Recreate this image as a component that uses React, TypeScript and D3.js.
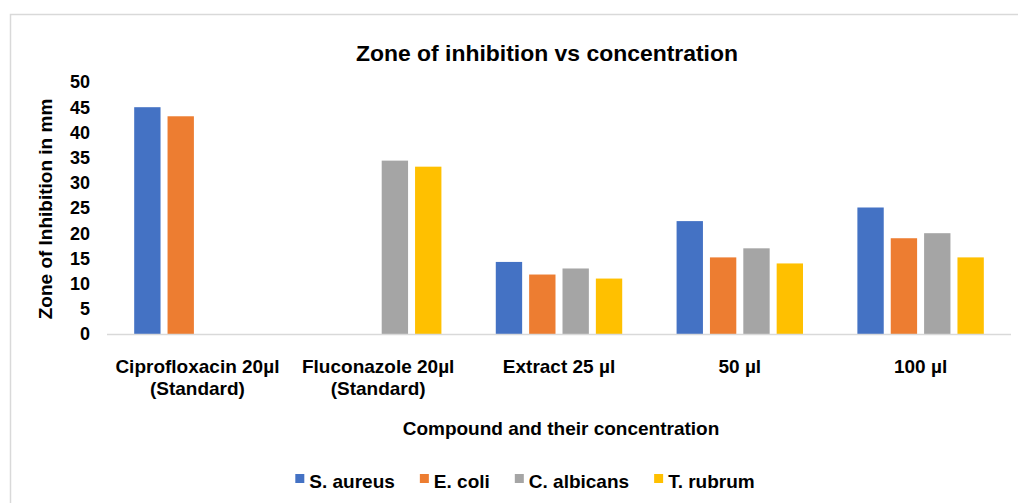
import React from 'react';
import * as d3 from 'd3';

const categories = [
  ['Ciprofloxacin 20µl', '(Standard)'],
  ['Fluconazole 20µl', '(Standard)'],
  ['Extract 25 µl'],
  ['50 µl'],
  ['100 µl'],
];
const seriesNames = ['S. aureus', 'E. coli', 'C. albicans', 'T. rubrum'];
const seriesColors = ['#4472C4', '#ED7D31', '#A5A5A5', '#FFC000'];
const sAureus = [45, null, 14.3, 22.4, 25.1];
const eColi = [43.2, null, 11.8, 15.2, 19.0];
const cAlbicans = [null, 34.4, 13.0, 17.0, 20.0];
const tRubrum = [null, 33.2, 11.0, 14.0, 15.2];
const yTicks = [0, 5, 10, 15, 20, 25, 30, 35, 40, 45, 50];

const seriesValues = [sAureus, eColi, cAlbicans, tRubrum];

const FONT = 'Liberation Sans, Arial, sans-serif';

const measure = (txt: string, size: number) => {
  const ctx = document.createElement('canvas').getContext('2d');
  if (!ctx) return txt.length * size * 0.55;
  ctx.font = `bold ${size}px ${FONT}`;
  return ctx.measureText(txt).width;
};

export default function App() {
  const width = 1018;
  const height = 503;
  const plot = { left: 107, right: 1011, top: 82, bottom: 334 };

  const x0 = d3.scaleBand<number>()
    .domain(categories.map((_, i) => i))
    .range([plot.left, plot.right])
    .padding(0);

  const x1 = d3.scaleBand<number>()
    .domain(seriesNames.map((_, i) => i))
    .range([0, x0.bandwidth()])
    .paddingInner(0.21)
    .paddingOuter(0.815);

  const y = d3.scaleLinear().domain([0, 50]).range([plot.bottom, plot.top]);

  // legend layout
  const legendSize = 19;
  const sw = 9;
  const gapText = 5;
  const gapItem = 25;
  const widths = seriesNames.map(n => sw + gapText + measure(n, legendSize));
  const total = d3.sum(widths) + gapItem * (seriesNames.length - 1);
  let lx = 525 - total / 2;
  const legendItems = seriesNames.map((n, i) => {
    const item = { name: n, x: lx, color: seriesColors[i] };
    lx += widths[i] + gapItem;
    return item;
  });
  const legendY = 482;

  return (
    <svg width={width} height={height} style={{ position: 'absolute', left: 0, top: 0, background: '#fff' }}>
      <rect x={0} y={0} width={width} height={height} fill="#fff" />
      <rect x={10.5} y={14.5} width={1040} height={520} fill="#fff" stroke="#d9d9d9" strokeWidth={1.5} />

      <text
        x={547}
        y={61}
        textAnchor="middle"
        fontFamily={FONT}
        fontWeight="bold"
        fontSize={22}
        fill="#000"
        textLength={382}
        lengthAdjust="spacingAndGlyphs"
      >
        Zone of inhibition vs concentration
      </text>

      {/* y ticks */}
      {yTicks.map(t => (
        <text key={t} x={90} y={y(t)} dy="0.36em" textAnchor="end" fontFamily={FONT} fontWeight="bold" fontSize={18} fill="#000">
          {t}
        </text>
      ))}

      <text
        transform={`translate(52, 209) rotate(-90)`}
        textAnchor="middle"
        fontFamily={FONT}
        fontWeight="bold"
        fontSize={19}
        fill="#000"
      >
        Zone of Inhibition in mm
      </text>

      {/* bars */}
      {categories.map((_, ci) => (
        <g key={ci} transform={`translate(${x0(ci)},0)`}>
          {seriesValues.map((vals, si) => {
            const v = vals[ci];
            if (v == null) return null;
            return (
              <rect
                key={si}
                x={x1(si)}
                y={y(v)}
                width={x1.bandwidth()}
                height={y(0) - y(v)}
                fill={seriesColors[si]}
              />
            );
          })}
        </g>
      ))}

      <line x1={plot.left} x2={plot.right} y1={plot.bottom + 0.5} y2={plot.bottom + 0.5} stroke="#d9d9d9" strokeWidth={1.5} />

      {/* x labels */}
      {categories.map((lines, ci) => (
        <text
          key={ci}
          x={(x0(ci) || 0) + x0.bandwidth() / 2}
          y={373}
          textAnchor="middle"
          fontFamily={FONT}
          fontWeight="bold"
          fontSize={19}
          fill="#000"
        >
          {lines.map((l, li) => (
            <tspan key={li} x={(x0(ci) || 0) + x0.bandwidth() / 2} dy={li === 0 ? 0 : 22}>
              {l}
            </tspan>
          ))}
        </text>
      ))}

      <text x={561} y={435} textAnchor="middle" fontFamily={FONT} fontWeight="bold" fontSize={19} fill="#000">
        Compound and their concentration
      </text>

      {/* legend */}
      {legendItems.map(it => (
        <g key={it.name}>
          <rect x={it.x} y={legendY - 8} width={sw} height={sw} fill={it.color} />
          <text x={it.x + sw + gapText} y={legendY + 6} fontFamily={FONT} fontWeight="bold" fontSize={legendSize} fill="#000">
            {it.name}
          </text>
        </g>
      ))}
    </svg>
  );
}
